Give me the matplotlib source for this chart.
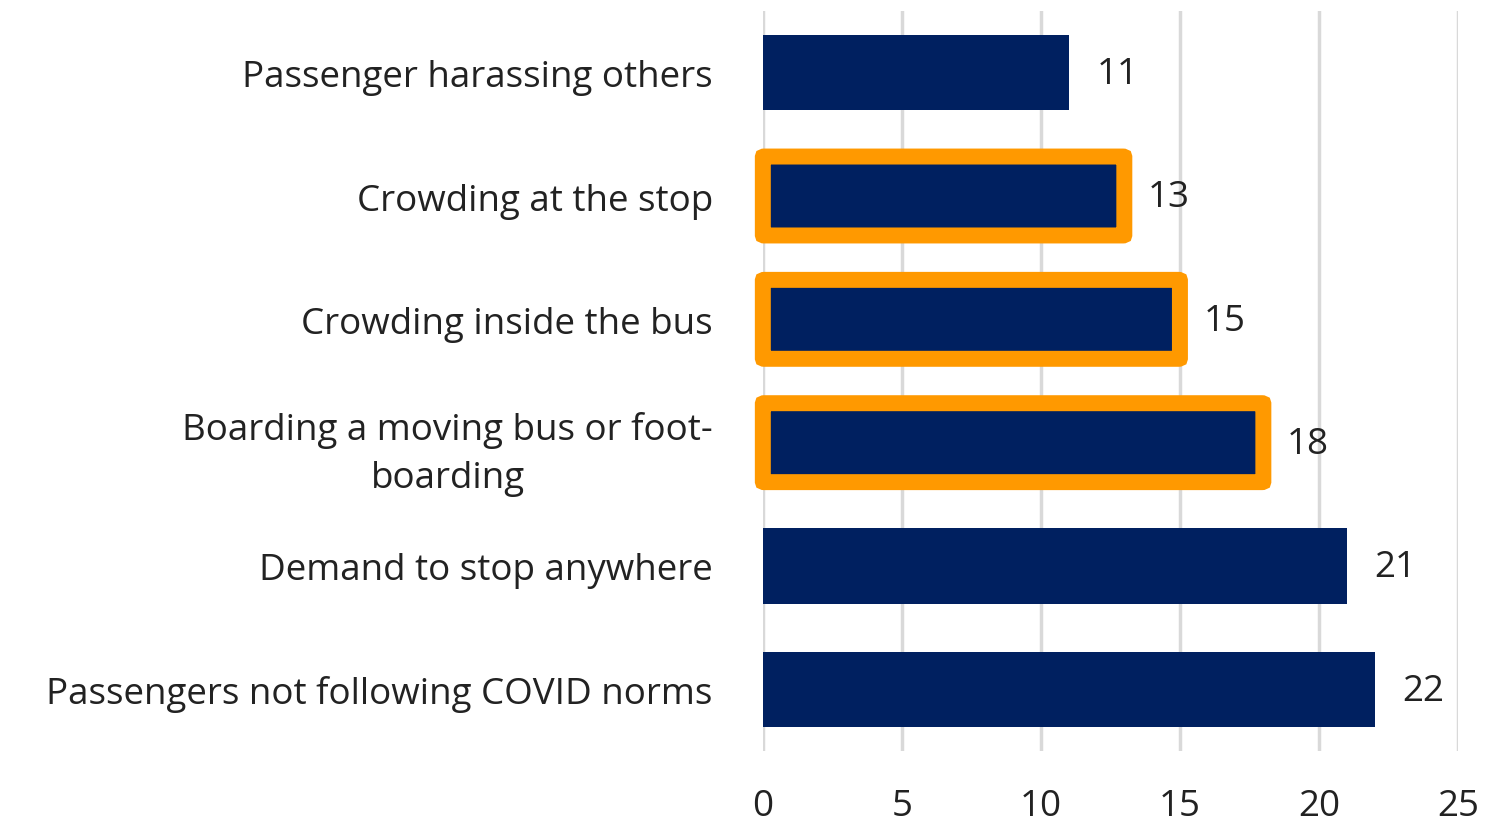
import matplotlib.pyplot as plt
from matplotlib.patches import FancyBboxPatch
from matplotlib.transforms import ScaledTranslation

# problemas relatados pelos motoristas (de cima para baixo)
categorias = [
    "Passenger harassing others",
    "Crowding at the stop",
    "Crowding inside the bus",
    "Boarding a moving bus or foot-\nboarding",
    "Demand to stop anywhere",
    "Passengers not following COVID norms",
]
valores = [11, 13, 15, 18, 21, 22]
destaque = [False, True, True, True, False, False]
ticks_x = [0, 5, 10, 15, 20, 25]

plt.rcParams["font.family"] = ["Open Sans", "DejaVu Sans"]
tam = 26.5

fig = plt.figure(figsize=(14.87, 8.28), dpi=100)
ax = fig.add_axes([0.513, 0.0918, 0.4675, 0.8937])

y = list(range(len(categorias)))
ax.barh(y, valores, height=0.61, color="#002060", zorder=2)

# caixas laranja nas barras destacadas
for i, (v, d) in enumerate(zip(valores, destaque)):
    if d:
        caixa = FancyBboxPatch((0, i - 0.32), v, 0.64,
                               boxstyle="round,pad=0,rounding_size=0.05",
                               fill=False, edgecolor="#FF9900", linewidth=11.5,
                               zorder=3, clip_on=False, mutation_aspect=1 / 10)
        ax.add_patch(caixa)

# rótulos de valor
for i, v in enumerate(valores):
    ax.annotate(str(v), (v, i), xytext=(17 if destaque[i] else 20, -1),
                textcoords="offset points", va="center", ha="left",
                fontsize=tam, color="#222222")

ax.set_xlim(0, 25)
ax.set_ylim(len(categorias) - 0.5, -0.5)
ax.set_xticks(ticks_x)
ax.set_yticks(y)
ax.set_yticklabels(categorias)
for lbl in ax.get_yticklabels():
    lbl.set_multialignment("center")
    lbl.set_linespacing(1.45)
    if "\n" in lbl.get_text():
        # rótulo de duas linhas um pouco mais para cima e para a direita
        lbl.set_transform(lbl.get_transform() +
                          ScaledTranslation(0.07, 0.06, fig.dpi_scale_trans))

ax.tick_params(axis="y", length=0, pad=36, labelsize=tam, labelcolor="#222222")
ax.tick_params(axis="x", length=0, pad=27, labelsize=tam, labelcolor="#222222")

ax.grid(axis="x", color="#d9d9d9", linewidth=2.5, zorder=0)
ax.set_axisbelow(True)
for s in ax.spines.values():
    s.set_visible(False)

fig.savefig("out.png", dpi=100, facecolor="white")
